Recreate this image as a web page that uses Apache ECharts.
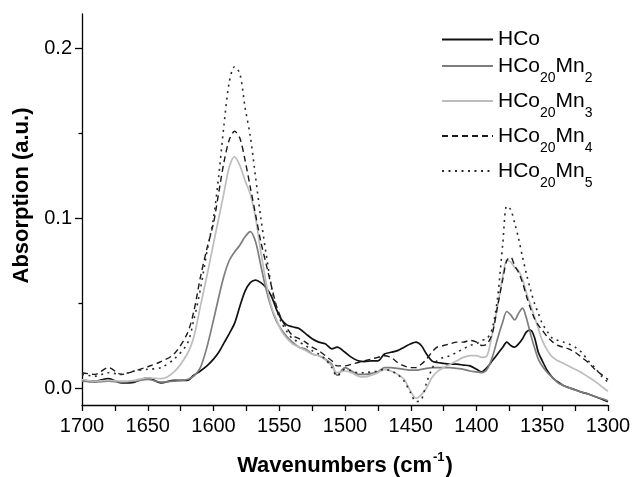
<!DOCTYPE html>
<html>
<head>
<meta charset="utf-8">
<script src="https://cdn.jsdelivr.net/npm/echarts@6/dist/echarts.min.js"></script>
<style>
  html, body { margin: 0; padding: 0; background: #fff; }
  #chart { width: 633px; height: 477px; }
</style>
</head>
<body>
<div id="chart"></div>
<script>
// wavenumbers (cm-1), shared by all spectra
const wavenumbers = [
  1700, 1690, 1680, 1670, 1660, 1650, 1640, 1630, 1620, 1615, 1610, 1605, 1600,
  1596, 1592, 1588, 1584, 1580, 1576, 1572, 1568, 1564, 1560, 1556, 1552, 1548, 1544, 1540,
  1535, 1530, 1525, 1520, 1515, 1510, 1506,
  1500, 1495, 1490, 1485, 1480, 1475, 1470, 1465, 1460, 1455, 1450,
  1446, 1442, 1438, 1434, 1430, 1425, 1420, 1415, 1410, 1405, 1400,
  1396, 1392, 1388, 1384, 1380, 1377, 1374, 1371, 1368, 1365, 1362, 1359, 1356, 1353, 1350,
  1346, 1342, 1338, 1334, 1330, 1325, 1320, 1315, 1310, 1305, 1300
]

const hco = [
  0.0045, 0.004, 0.0055, 0.003, 0.0035, 0.006, 0.003, 0.0045, 0.0045, 0.0075, 0.010, 0.013, 0.017,
  0.021, 0.0265, 0.032, 0.038, 0.048, 0.057, 0.062, 0.0635, 0.062, 0.059, 0.054, 0.046, 0.040, 0.037, 0.036,
  0.035, 0.032, 0.029, 0.027, 0.026, 0.023, 0.024,
  0.021, 0.018, 0.016, 0.0155, 0.016, 0.016, 0.020, 0.021, 0.022, 0.024, 0.026,
  0.027, 0.025, 0.020, 0.016, 0.015, 0.0145, 0.014, 0.014, 0.0135, 0.013, 0.011,
  0.0095, 0.012, 0.016, 0.020, 0.024, 0.027, 0.025, 0.024, 0.026, 0.029, 0.033, 0.034, 0.030, 0.021, 0.016,
  0.010, 0.006, 0.0035, 0.0015, 0.0003, -0.001, -0.0025, -0.0035, -0.005, -0.0065, -0.008
]

const hcoMn2 = [
  0.004, 0.0035, 0.004, 0.0035, 0.004, 0.005, 0.0035, 0.004, 0.005, 0.007, 0.012, 0.024, 0.040,
  0.0535, 0.066, 0.075, 0.080, 0.084, 0.089, 0.092, 0.086, 0.072, 0.058, 0.047, 0.039, 0.034, 0.030, 0.027,
  0.024, 0.023, 0.020, 0.019, 0.017, 0.014, 0.0075,
  0.012, 0.010, 0.008, 0.008, 0.0085, 0.0095, 0.012, 0.012, 0.0115, 0.011, 0.0105,
  0.0105, 0.011, 0.0115, 0.012, 0.012, 0.012, 0.012, 0.0115, 0.011, 0.010, 0.0095,
  0.009, 0.011, 0.018, 0.029, 0.039, 0.045, 0.043, 0.040, 0.044, 0.047, 0.041, 0.032, 0.024, 0.017, 0.013,
  0.009, 0.006, 0.003, 0.0015, 0.0002, -0.0012, -0.0025, -0.0035, -0.005, -0.0062, -0.0075
]

const hcoMn3 = [
  0.005, 0.004, 0.0045, 0.004, 0.0045, 0.006, 0.0055, 0.0095, 0.020, 0.030, 0.048, 0.066, 0.085,
  0.100, 0.115, 0.130, 0.136, 0.131, 0.122, 0.114, 0.100, 0.080, 0.062, 0.048, 0.040, 0.033, 0.029, 0.026,
  0.024, 0.022, 0.020, 0.019, 0.0165, 0.013, 0.009,
  0.010, 0.009, 0.007, 0.0065, 0.0075, 0.009, 0.011, 0.010, 0.008, 0.005, -0.002,
  -0.006, -0.004, 0.000, 0.006, 0.0095, 0.012, 0.014, 0.016, 0.018, 0.019, 0.019,
  0.018, 0.019, 0.032, 0.048, 0.066, 0.075, 0.074, 0.071, 0.069, 0.064, 0.056, 0.049, 0.042, 0.035, 0.028,
  0.022, 0.018, 0.016, 0.0145, 0.013, 0.011, 0.009, 0.0065, 0.004, 0.001, -0.002
]

const hcoMn4 = [
  0.009, 0.008, 0.012, 0.008, 0.010, 0.0125, 0.0155, 0.020, 0.032, 0.045, 0.065, 0.082, 0.097,
  0.115, 0.133, 0.146, 0.151, 0.147, 0.134, 0.118, 0.102, 0.086, 0.073, 0.060, 0.048, 0.040, 0.035, 0.031,
  0.029, 0.027, 0.024, 0.022, 0.019, 0.016, 0.013,
  0.013, 0.014, 0.015, 0.016, 0.017, 0.018, 0.019, 0.018, 0.015, 0.013, 0.012,
  0.012, 0.014, 0.017, 0.021, 0.024, 0.025, 0.026, 0.027, 0.027, 0.028, 0.027,
  0.025, 0.026, 0.032, 0.048, 0.064, 0.075, 0.077, 0.072, 0.068, 0.062, 0.054, 0.047, 0.041, 0.037, 0.034,
  0.030, 0.027, 0.025, 0.024, 0.023, 0.021, 0.018, 0.015, 0.011, 0.008, 0.005
]

const hcoMn5 = [
  0.008, 0.007, 0.009, 0.008, 0.010, 0.011, 0.012, 0.017, 0.026, 0.040, 0.058, 0.080, 0.100,
  0.125, 0.155, 0.180, 0.189, 0.185, 0.165, 0.148, 0.124, 0.100, 0.079, 0.060, 0.046, 0.038, 0.033, 0.029,
  0.027, 0.025, 0.022, 0.020, 0.017, 0.012, 0.007,
  0.011, 0.010, 0.009, 0.009, 0.0095, 0.010, 0.011, 0.010, 0.008, 0.004, -0.003,
  -0.008, -0.007, 0.003, 0.011, 0.016, 0.018, 0.019, 0.021, 0.023, 0.025, 0.026,
  0.028, 0.029, 0.035, 0.053, 0.085, 0.107, 0.105, 0.097, 0.088, 0.077, 0.067, 0.058, 0.050, 0.044, 0.038,
  0.033, 0.029, 0.028, 0.027, 0.026, 0.024, 0.021, 0.016, 0.012, 0.007, 0.0035
]

const yLabels = [0, 0.1, 0.2]
const yMinorTicks = [0.05, 0.15]

const FONT = '"Liberation Sans", Arial, Helvetica, sans-serif'

const chart = echarts.init(document.getElementById('chart'), null, { renderer: 'canvas' })

function pairs(ys) {
  return wavenumbers.map((w, i) => [w, ys[i]])
}

// HCo20Mn2 -> rich text with subscripts
function legendText(name) {
  if (!/\d/.test(name)) {
    return '{h|' + name + '}'
  }
  return name.split(/(\d+)/).filter(s => s !== '').map(s => {
    return /^\d+$/.test(s) ? '{s|' + s + '}' : '{n|' + s + '}'
  }).join('')
}

const series = [
  { name: 'HCo', data: pairs(hco), color: '#111111', width: 1.7, type: 'solid' },
  { name: 'HCo20Mn2', data: pairs(hcoMn2), color: '#7d7d7d', width: 1.7, type: 'solid' },
  { name: 'HCo20Mn3', data: pairs(hcoMn3), color: '#bdbdbd', width: 1.7, type: 'solid' },
  { name: 'HCo20Mn4', data: pairs(hcoMn4), color: '#1a1a1a', width: 1.4, type: [6, 4] },
  { name: 'HCo20Mn5', data: pairs(hcoMn5), color: '#2a2a2a', width: 1.6, type: [2, 4.5] }
].map(s => ({
  name: s.name,
  type: 'line',
  data: s.data,
  symbol: 'none',
  smooth: 0.3,
  yAxisIndex: 0,
  color: s.color,
  lineStyle: { color: s.color, width: s.width, type: s.type },
  animation: false,
  z: 2
}))

chart.setOption({
  backgroundColor: '#ffffff',
  animation: false,
  grid: { left: 82, right: 25, top: 14, bottom: 72, containLabel: false, outerBoundsMode: 'none' },
  legend: {
    orient: 'vertical',
    left: 441,
    top: 29,
    padding: 0,
    itemGap: 5.5,
    itemWidth: 51,
    itemHeight: 14,
    itemStyle: { opacity: 0 },
    data: series.map(s => s.name),
    formatter: legendText,
    textStyle: {
      color: '#000',
      fontFamily: FONT,
      rich: {
        h: { fontSize: 21, lineHeight: 22, fontFamily: FONT, color: '#000' },
        n: { fontSize: 21, lineHeight: 38, verticalAlign: 'middle', fontFamily: FONT, color: '#000' },
        s: { fontSize: 14, lineHeight: 14, verticalAlign: 'bottom', fontFamily: FONT, color: '#000' }
      }
    }
  },
  xAxis: {
    type: 'value',
    min: 1300,
    max: 1700,
    interval: 25,
    inverse: true,
    name: '{b|Wavenumbers (cm}{sup|-1}{b|)}',
    nameLocation: 'middle',
    nameGap: 46,
    nameTextStyle: {
      rich: {
        b: { fontSize: 22, fontWeight: 'bold', fontFamily: FONT, color: '#000', lineHeight: 26, verticalAlign: 'bottom' },
        sup: { fontSize: 13, fontWeight: 'bold', fontFamily: FONT, color: '#000', lineHeight: 26, verticalAlign: 'top', padding: [0, 1, 8, 1] }
      }
    },
    axisLine: { onZero: false, lineStyle: { color: '#000', width: 1.3 } },
    axisTick: { inside: false, length: 6, lineStyle: { color: '#000', width: 1.3 } },
    axisLabel: {
      margin: 11,
      fontSize: 20,
      fontFamily: FONT,
      color: '#000',
      formatter: v => (v % 50 === 0 ? String(v) : '')
    },
    splitLine: { show: false }
  },
  yAxis: [
    {
      type: 'value',
      min: -0.01,
      max: 0.22,
      name: 'Absorption (a.u.)',
      nameLocation: 'middle',
      nameGap: 44,
      nameTextStyle: { fontSize: 22, fontWeight: 'bold', fontFamily: FONT, color: '#000', padding: [0, 0, 0, 28] },
      axisLine: { lineStyle: { color: '#000', width: 1.3 } },
      axisTick: { inside: false, length: 7, customValues: yLabels, lineStyle: { color: '#000', width: 1.3 } },
      axisLabel: {
        customValues: yLabels,
        margin: 10,
        fontSize: 20,
        fontFamily: FONT,
        color: '#000',
        formatter: v => v.toFixed(1)
      },
      splitLine: { show: false }
    },
    {
      // minor ticks at 0.05 / 0.15
      type: 'value',
      position: 'left',
      min: -0.01,
      max: 0.22,
      axisLine: { show: false },
      axisTick: { inside: false, length: 3.5, customValues: yMinorTicks, lineStyle: { color: '#000', width: 1.3 } },
      axisLabel: { show: false, customValues: yMinorTicks },
      splitLine: { show: false }
    }
  ],
  series: series
})
</script>
</body>
</html>
